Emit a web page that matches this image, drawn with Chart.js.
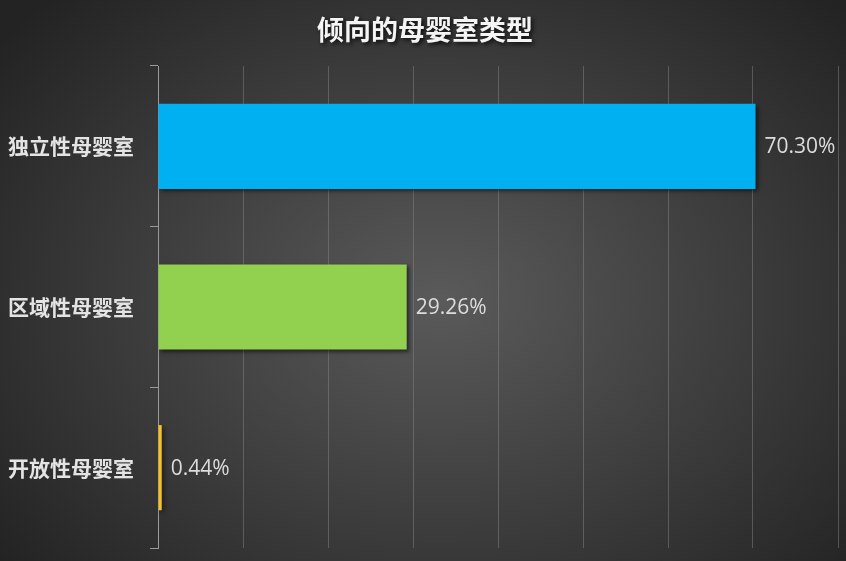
<!DOCTYPE html>
<html>
<head>
<meta charset="utf-8">
<script src="https://cdn.jsdelivr.net/npm/chart.js@4.4.1/dist/chart.umd.min.js"></script>
<style>
  html, body { margin: 0; padding: 0; }
  body {
    width: 846px; height: 561px; overflow: hidden;
    background: radial-gradient(ellipse 560px 420px at 440px 300px, #5a5a5a 0%, #3c3c3c 55%, #232323 100%);
  }
  #wrap { position: relative; width: 846px; height: 561px; }
</style>
</head>
<body>
<div id="wrap"><canvas id="myGraph"></canvas></div>
<script>
const titleText = "倾向的母婴室类型";
const categories = ["独立性母婴室", "区域性母婴室", "开放性母婴室"];
const shares = [70.30, 29.26, 0.44];
const barColors = ["#00b0f0", "#92d050", "#f5c02a"];

// shadow under the bars
const barShadow = {
  id: "barShadow",
  beforeDatasetsDraw(chart) {
    const ctx = chart.ctx;
    ctx.save();
    ctx.shadowColor = "rgba(0,0,0,0.55)";
    ctx.shadowBlur = 4;
    ctx.shadowOffsetX = 2;
    ctx.shadowOffsetY = 2;
  },
  afterDatasetsDraw(chart) {
    chart.ctx.restore();
  }
};

// value labels next to bar ends + title with shadow
const valueLabels = {
  id: "valueLabels",
  afterDraw(chart) {
    const ctx = chart.ctx;
    const meta = chart.getDatasetMeta(0);
    ctx.save();
    ctx.font = "21px 'Open Sans', sans-serif";
    ctx.fillStyle = "#dcdcdc";
    ctx.textAlign = "left";
    ctx.textBaseline = "middle";
    meta.data.forEach((bar, i) => {
      ctx.fillText(shares[i].toFixed(2) + "%", bar.x + 9, bar.y + 1);
    });

    ctx.font = "bold 27px 'Noto Sans CJK SC', sans-serif";
    ctx.textAlign = "center";
    ctx.shadowColor = "rgba(0,0,0,0.8)";
    ctx.shadowBlur = 4;
    ctx.shadowOffsetX = 2;
    ctx.shadowOffsetY = 2;
    ctx.fillStyle = "#f4f4f4";
    ctx.fillText(titleText, 425, 30);
    ctx.restore();
  }
};

new Chart(document.getElementById("myGraph"), {
  type: "bar",
  data: {
    labels: categories,
    datasets: [
      {
        label: titleText,
        data: shares.map((v) => v / 100),
        backgroundColor: barColors,
        borderWidth: 0,
        categoryPercentage: 1,
        barPercentage: 0.53,
      },
    ],
  },
  options: {
    indexAxis: "y",
    responsive: true,
    maintainAspectRatio: false,
    animation: false,
    layout: { padding: { top: 66, right: 8, bottom: 13, left: 0 } },
    plugins: {
      legend: { display: false },
      title: { display: false },
      tooltip: { enabled: false },
    },
    scales: {
      x: {
        min: 0,
        max: 0.8,
        ticks: { display: false, stepSize: 0.1 },
        grid: { color: "rgba(140,140,140,0.45)", lineWidth: 1, drawTicks: false },
        border: { display: false },
        afterFit(scale) { scale.height = 0; },
      },
      y: {
        ticks: {
          color: "#e4e4e4",
          font: { family: "'Noto Sans CJK SC', sans-serif", size: 21, weight: "bold" },
          padding: 16,
        },
        grid: { drawOnChartArea: false, drawTicks: true, tickLength: 8, color: "#9a9a9a" },
        border: { display: true, color: "#9a9a9a", width: 1 },
        afterFit(scale) {
          scale.width = 158;
          scale.paddingTop = 0;
          scale.paddingBottom = 0;
        },
      },
    },
  },
  plugins: [barShadow, valueLabels],
});
</script>
</body>
</html>
